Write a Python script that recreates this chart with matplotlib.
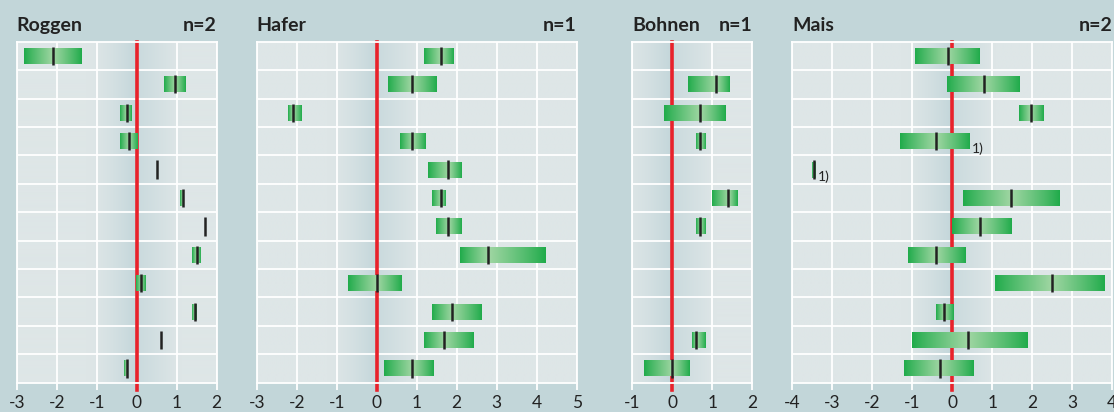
import numpy as np
import matplotlib.pyplot as plt
from matplotlib.colors import to_rgb

plt.rcParams['font.family'] = ['Lato', 'DejaVu Sans']
plt.rcParams['axes.unicode_minus'] = False

nan = np.nan
rows = np.arange(12)

# Werte je Zeile: Minimum, Median, Maximum
roggen_lo = [-2.82, 0.68, -0.42, -0.42, 0.50, 1.08, 1.70, 1.39, -0.02, 1.39, 0.61, -0.31]
roggen_med = [-2.10, 0.95, -0.25, -0.20, 0.50, 1.15, 1.70, 1.51, 0.10, 1.45, 0.61, -0.25]
roggen_hi = [-1.39, 1.21, -0.12, 0.01, 0.50, 1.18, 1.70, 1.61, 0.21, 1.50, 0.61, -0.21]

hafer_lo = [1.18, 0.29, -2.22, 0.58, 1.28, 1.38, 1.48, 2.08, -0.72, 1.38, 1.18, 0.18]
hafer_med = [1.60, 0.89, -2.10, 0.89, 1.79, 1.60, 1.79, 2.79, 0.00, 1.89, 1.69, 0.89]
hafer_hi = [1.91, 1.51, -1.89, 1.21, 2.11, 1.71, 2.11, 4.21, 0.61, 2.61, 2.41, 1.41]

bohnen_lo = [nan, 0.39, -0.21, 0.59, nan, 0.99, 0.59, nan, nan, nan, 0.49, -0.71]
bohnen_med = [nan, 1.09, 0.70, 0.70, nan, 1.40, 0.70, nan, nan, nan, 0.60, 0.00]
bohnen_hi = [nan, 1.42, 1.32, 0.82, nan, 1.62, 0.82, nan, nan, nan, 0.82, 0.42]

mais_lo = [-0.93, -0.13, 1.67, -1.31, -3.50, 0.27, 0.00, -1.11, 1.07, -0.41, -1.01, -1.21]
mais_med = [-0.12, 0.78, 1.97, -0.41, -3.45, 1.47, 0.69, -0.41, 2.49, -0.21, 0.39, -0.31]
mais_hi = [0.69, 1.69, 2.29, 0.42, -3.42, 2.69, 1.49, 0.32, 3.82, 0.02, 1.89, 0.52]
mais_notes = {3: '1)', 4: '1)'}

panels = [
    ("Roggen", "n=2", -3, 2, roggen_lo, roggen_med, roggen_hi, {}),
    ("Hafer", "n=1", -3, 5, hafer_lo, hafer_med, hafer_hi, {}),
    ("Bohnen", "n=1", -1, 2, bohnen_lo, bohnen_med, bohnen_hi, {}),
    ("Mais", "n=2", -4, 4, mais_lo, mais_med, mais_hi, mais_notes),
]
lefts = [16.7, 256.7, 632.3, 792.3]

W, H = 1114, 412
bg = '#c2d6d9'
light = np.array(to_rgb('#dee6e7'))
dark = np.array(to_rgb('#c3d6da'))
g_dark = np.array(to_rgb('#1fab4a'))
g_light = np.array(to_rgb('#a0d6a3'))

fig = plt.figure(figsize=(W / 100, H / 100), dpi=100, facecolor=bg)

for (name, ntxt, xmin, xmax, lo, med, hi, notes), left in zip(panels, lefts):
    width = (xmax - xmin) * 40
    ax = fig.add_axes([left / W, (H - 382.7) / H, width / W, 341 / H])
    ax.set_xlim(xmin, xmax)
    ax.set_ylim(11.5, -0.5)

    # Hintergrund mit dunklerem Band um die Null
    xs = np.linspace(xmin, xmax, 600)
    d = np.where(xs < 0, np.clip(1 + xs / 1.25, 0, 1) ** 1.5,
                 0.75 * np.clip(1 - xs / 1.1, 0, 1))
    img = light[None, :] + (dark - light)[None, :] * d[:, None]
    ax.imshow(img[None, :, :], extent=[xmin, xmax, 11.5, -0.5],
              aspect='auto', zorder=0, interpolation='bilinear')

    for x in range(xmin, xmax + 1):
        ax.axvline(x, color='white', lw=1.3, zorder=1)
    for y in rows[:-1]:
        ax.axhline(y + 0.5, color='white', lw=1.3, zorder=1)

    ax.axvline(0, ymin=-0.02, ymax=1, color='#e8222b', lw=2.6,
               clip_on=False, zorder=2)

    for i in rows:
        a, m, b = lo[i], med[i], hi[i]
        if np.isnan(m):
            continue
        if b - a > 0.01:
            t = np.linspace(a, b, 200)
            f = np.where(t <= m, (t - a) / max(m - a, 1e-6),
                         (b - t) / max(b - m, 1e-6))
            f = np.clip(f, 0, 1) ** 0.9
            cols = g_dark[None, :] + (g_light - g_dark)[None, :] * f[:, None]
            ax.imshow(cols[None, :, :], extent=[a, b, i + 0.28, i - 0.28],
                      aspect='auto', zorder=3, interpolation='bilinear')
        ax.plot([m, m], [i - 0.32, i + 0.32], color='#222222', lw=1.8,
                solid_capstyle='butt', zorder=4)
        if i in notes:
            ax.annotate(notes[i], (b, i + 0.25), xytext=(2, 0),
                        textcoords='offset points', fontsize=10,
                        color='#222222', va='center', ha='left', zorder=5)

    ax.set_xlim(xmin, xmax)
    ax.set_ylim(11.5, -0.5)
    ax.set_xticks(range(xmin, xmax + 1))
    ax.set_yticks([])
    ax.tick_params(axis='x', length=5, width=1.3, color='white',
                   labelcolor='#222222', labelsize=12.5, pad=4)
    for s in ax.spines.values():
        s.set_color('white')
        s.set_linewidth(1.3)

    ax.text(0, 1.031, name, transform=ax.transAxes, fontsize=14,
            fontweight='bold', color='#222222', ha='left', va='baseline')
    ax.text(1, 1.031, ntxt, transform=ax.transAxes, fontsize=14,
            fontweight='bold', color='#222222', ha='right', va='baseline')

fig.savefig('out.png', dpi=100, facecolor=bg)
